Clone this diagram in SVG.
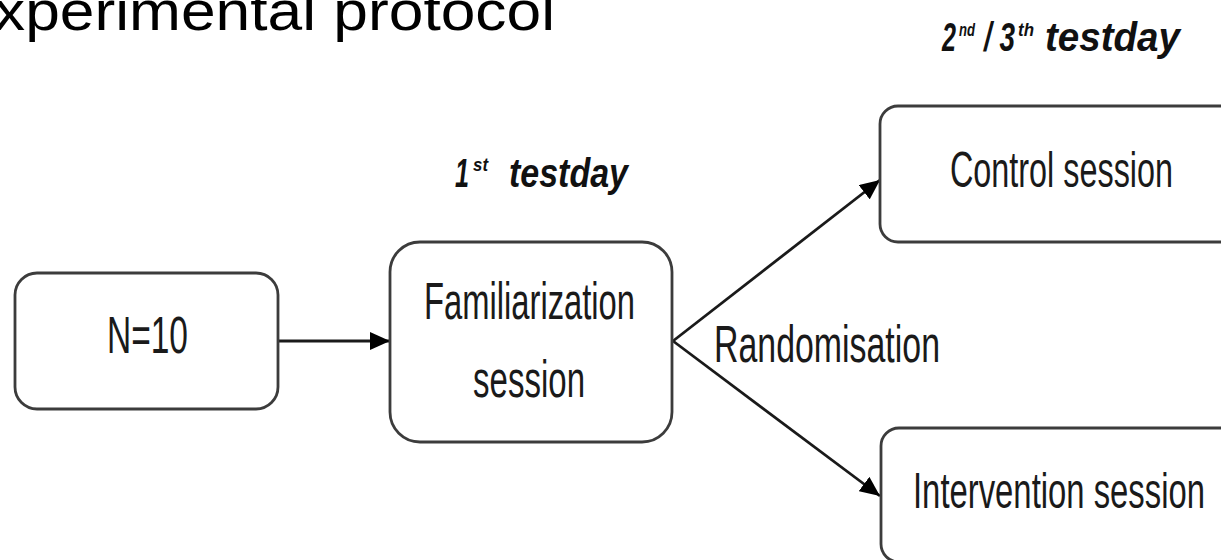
<svg xmlns="http://www.w3.org/2000/svg" width="1221" height="560" viewBox="0 0 1221 560">
  <style>
    .box { fill: #ffffff; stroke: #3c3c3c; stroke-width: 2.8; }
    .lbl { font-family: "Liberation Sans", Arial, sans-serif; fill: #1a1a1a; }
    .hdr { font-family: "Liberation Sans", Arial, sans-serif; font-weight: bold; font-style: italic; fill: #111111; }
    .title { font-family: "Liberation Sans", Arial, sans-serif; fill: #000000; }
    .conn { stroke: #1a1a1a; stroke-width: 2.8; fill: none; marker-end: url(#arrow); }
  </style>
  <defs>
    <marker id="arrow" markerUnits="userSpaceOnUse" markerWidth="22" markerHeight="18" refX="20" refY="9" orient="auto">
      <path d="M0,0 L20,9 L0,18 Z" fill="#000000"/>
    </marker>
  </defs>
  <rect width="1221" height="560" fill="#ffffff"/>

  <text class="title" x="-6" y="30" font-size="56" textLength="561" lengthAdjust="spacingAndGlyphs">xperimental protocol</text>

  <g id="hdr1">
    <text class="hdr" x="455" y="187" font-size="40" textLength="14" lengthAdjust="spacingAndGlyphs">1</text>
    <text class="hdr" x="473" y="171" font-size="18" textLength="15" lengthAdjust="spacingAndGlyphs">st</text>
    <text class="hdr" x="509" y="187" font-size="40" textLength="119" lengthAdjust="spacingAndGlyphs">testday</text>
  </g>
  <g id="hdr2">
    <text class="hdr" x="942" y="51" font-size="40" textLength="14" lengthAdjust="spacingAndGlyphs">2</text>
    <text class="hdr" x="959" y="36" font-size="18" textLength="16" lengthAdjust="spacingAndGlyphs">nd</text>
    <text class="hdr" x="984" y="51" font-size="40" textLength="31" lengthAdjust="spacingAndGlyphs">/ 3</text>
    <text class="hdr" x="1018" y="36" font-size="18" textLength="16" lengthAdjust="spacingAndGlyphs">th</text>
    <text class="hdr" x="1045" y="51" font-size="40" textLength="135" lengthAdjust="spacingAndGlyphs">testday</text>
  </g>

  <g id="connectors">
    <line class="conn" x1="279" y1="341" x2="390" y2="341"/>
    <line class="conn" x1="673" y1="341" x2="880" y2="180"/>
    <line class="conn" x1="673" y1="341" x2="880" y2="496"/>
  </g>

  <g id="n10">
    <rect class="box" x="15" y="273" width="263" height="136" rx="22"/>
    <text class="lbl" x="107" y="353" font-size="52" textLength="81" lengthAdjust="spacingAndGlyphs">N=10</text>
  </g>

  <g id="familiarization">
    <rect class="box" x="390" y="242" width="282" height="200" rx="30"/>
    <text class="lbl" x="424" y="319" font-size="52" textLength="211" lengthAdjust="spacingAndGlyphs">Familiarization</text>
    <text class="lbl" x="473" y="397" font-size="52" textLength="112" lengthAdjust="spacingAndGlyphs">session</text>
  </g>

  <g id="randomisation">
    <text class="lbl" x="714" y="362" font-size="52" textLength="226" lengthAdjust="spacingAndGlyphs">Randomisation</text>
  </g>

  <g id="control">
    <rect class="box" x="880" y="106" width="370" height="136" rx="18"/>
    <text class="lbl" x="950" y="187" font-size="50" textLength="223" lengthAdjust="spacingAndGlyphs">Control session</text>
  </g>

  <g id="intervention">
    <rect class="box" x="881" y="428" width="370" height="134" rx="18"/>
    <text class="lbl" x="913" y="508" font-size="50" textLength="292" lengthAdjust="spacingAndGlyphs">Intervention session</text>
  </g>
</svg>
